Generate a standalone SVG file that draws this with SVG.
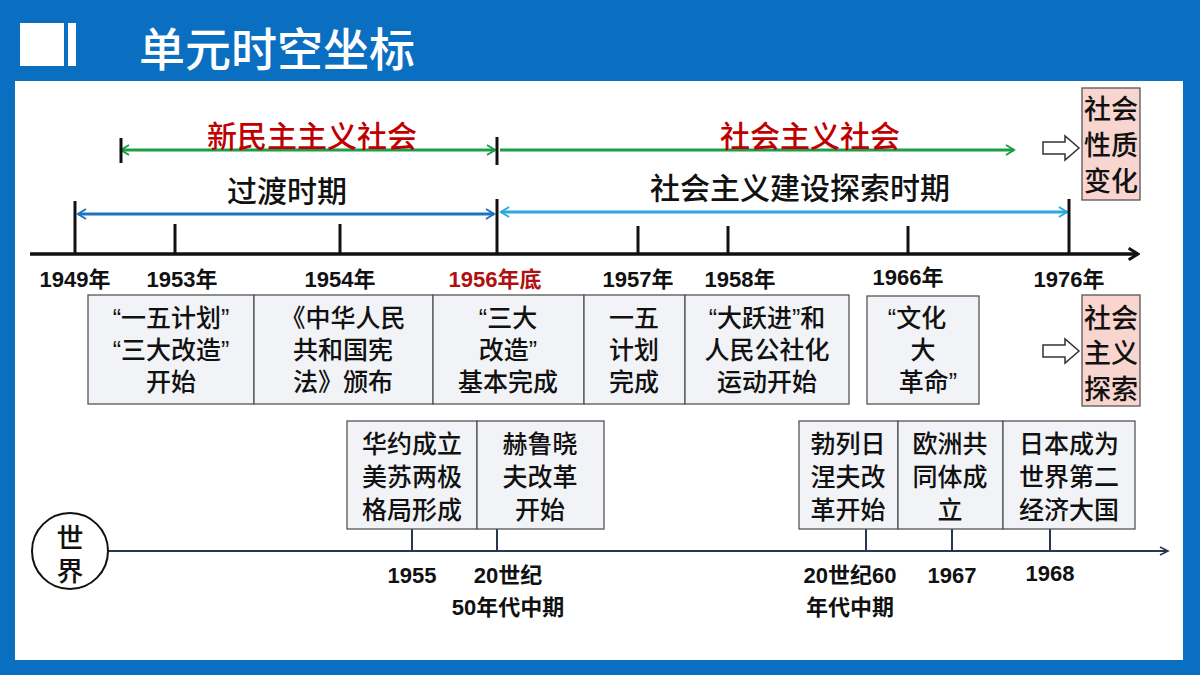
<svg xmlns="http://www.w3.org/2000/svg" width="1200" height="675" viewBox="0 0 1200 675">
<defs>
<style>
text{font-family:"Liberation Sans","Noto Sans CJK SC",sans-serif;text-anchor:middle}
.yr{font-size:22px;font-weight:bold;fill:#111}
.bx{fill:#f1f3f6;stroke:#555;stroke-width:1.3}
.pk{fill:#f9d5d0;stroke:#555;stroke-width:1.3}
.bt{font-size:25px;font-weight:500;fill:#111}
.pt{font-size:27px;font-weight:500;fill:#111}
.tk{stroke:#111;stroke-width:3}
.wt{stroke:#2a3550;stroke-width:2}
</style>
<marker id="ag" viewBox="0 0 12 12" refX="10" refY="6" markerWidth="12" markerHeight="12" markerUnits="userSpaceOnUse" orient="auto-start-reverse"><path d="M2,1 L10,6 L2,11" fill="none" stroke="#1a9e4a" stroke-width="2"/></marker>
<marker id="ab" viewBox="0 0 12 12" refX="10" refY="6" markerWidth="12" markerHeight="12" markerUnits="userSpaceOnUse" orient="auto-start-reverse"><path d="M2,1 L10,6 L2,11" fill="none" stroke="#1f72c0" stroke-width="2"/></marker>
<marker id="al" viewBox="0 0 12 12" refX="10" refY="6" markerWidth="12" markerHeight="12" markerUnits="userSpaceOnUse" orient="auto-start-reverse"><path d="M2,1 L10,6 L2,11" fill="none" stroke="#2aa8e2" stroke-width="2"/></marker>
<marker id="ak" viewBox="0 0 12 12" refX="10" refY="6" markerWidth="14" markerHeight="14" markerUnits="userSpaceOnUse" orient="auto"><path d="M2,1 L10,6 L2,11" fill="none" stroke="#111" stroke-width="2.5"/></marker>
<marker id="aw" viewBox="0 0 12 12" refX="10" refY="6" markerWidth="12" markerHeight="12" markerUnits="userSpaceOnUse" orient="auto"><path d="M2,2 L10,6 L2,10" fill="none" stroke="#2a3550" stroke-width="1.6"/></marker>
<path id="ho" d="M0,-6 H22 V-12 L36,0 L22,12 V6 H0 Z" fill="#fff" stroke="#333" stroke-width="1.5"/>
</defs>
<rect width="1200" height="675" fill="#0b6fc1"/>
<rect x="15" y="81" width="1168" height="579" fill="#fff"/>
<rect x="20" y="23" width="44" height="43" fill="#fff"/>
<rect x="68" y="23" width="8" height="43" fill="#fff"/>
<text x="277" y="66" style="font-size:46px;font-weight:500;fill:#fff">单元时空坐标</text>

<g id="connectors">
<line x1="121" y1="150" x2="495" y2="150" stroke="#1a9e4a" stroke-width="3" marker-start="url(#ag)" marker-end="url(#ag)"/>
<line x1="121" y1="138" x2="121" y2="163" class="tk"/>
<line x1="500" y1="150" x2="1014" y2="150" stroke="#1a9e4a" stroke-width="3" marker-end="url(#ag)"/>
<line x1="78" y1="214" x2="494" y2="214" stroke="#1f72c0" stroke-width="3" marker-start="url(#ab)" marker-end="url(#ab)"/>
<line x1="501" y1="212" x2="1067" y2="212" stroke="#2aa8e2" stroke-width="3" marker-start="url(#al)" marker-end="url(#al)"/>
<line x1="30" y1="254" x2="1138" y2="254" stroke="#111" stroke-width="3.5" marker-end="url(#ak)"/>
<line x1="75" y1="201" x2="75" y2="254" class="tk"/>
<line x1="175" y1="224" x2="175" y2="254" class="tk"/>
<line x1="340" y1="224" x2="340" y2="254" class="tk"/>
<line x1="497" y1="137" x2="497" y2="165" class="tk"/>
<line x1="497" y1="199" x2="497" y2="254" class="tk"/>
<line x1="638" y1="226" x2="638" y2="254" class="tk"/>
<line x1="728" y1="226" x2="728" y2="254" class="tk"/>
<line x1="908" y1="226" x2="908" y2="254" class="tk"/>
<line x1="1069" y1="199" x2="1069" y2="254" class="tk"/>
<use href="#ho" x="1043" y="148"/>
<use href="#ho" x="1043" y="351"/>
<line x1="108" y1="551" x2="1168" y2="551" class="wt" marker-end="url(#aw)"/>
<line x1="412" y1="529" x2="412" y2="551" class="wt"/>
<line x1="497" y1="529" x2="497" y2="551" class="wt"/>
<line x1="866" y1="529" x2="866" y2="551" class="wt"/>
<line x1="952" y1="529" x2="952" y2="551" class="wt"/>
<line x1="1050" y1="529" x2="1050" y2="551" class="wt"/>
</g>

<text x="312" y="147" style="font-size:30px;font-weight:500;fill:#c00000">新民主主义社会</text>
<text x="810" y="147" style="font-size:30px;font-weight:500;fill:#c00000">社会主义社会</text>
<text x="287" y="202" style="font-size:30px;font-weight:500;fill:#111">过渡时期</text>
<text x="800" y="199" style="font-size:30px;font-weight:500;fill:#111">社会主义建设探索时期</text>

<text x="75" y="287" class="yr">1949年</text>
<text x="182" y="287" class="yr">1953年</text>
<text x="340" y="287" class="yr">1954年</text>
<text x="495" y="287" class="yr" style="fill:#b01010">1956年底</text>
<text x="638" y="287" class="yr">1957年</text>
<text x="740" y="287" class="yr">1958年</text>
<text x="908" y="285" class="yr">1966年</text>
<text x="1069" y="287" class="yr">1976年</text>

<g id="n1"><rect x="88" y="295" width="166" height="109" class="bx"/><text x="171" y="327" class="bt">“一五计划”</text><text x="171" y="359" class="bt">“三大改造”</text><text x="171" y="391" class="bt">开始</text></g>
<g id="n2"><rect x="254" y="295" width="179" height="109" class="bx"/><text x="343" y="327" class="bt">《中华人民</text><text x="343" y="359" class="bt">共和国宪</text><text x="343" y="391" class="bt">法》颁布</text></g>
<g id="n3"><rect x="433" y="295" width="151" height="109" class="bx"/><text x="508" y="327" class="bt">“三大</text><text x="508" y="359" class="bt">改造”</text><text x="508" y="391" class="bt">基本完成</text></g>
<g id="n4"><rect x="584" y="295" width="101" height="109" class="bx"/><text x="634" y="327" class="bt">一五</text><text x="634" y="359" class="bt">计划</text><text x="634" y="391" class="bt">完成</text></g>
<g id="n5"><rect x="685" y="295" width="164" height="109" class="bx"/><text x="767" y="327" class="bt">“大跃进”和</text><text x="767" y="359" class="bt">人民公社化</text><text x="767" y="391" class="bt">运动开始</text></g>
<g id="n6"><rect x="867" y="296" width="112" height="108" class="bx"/><text x="917" y="327" class="bt">“文化</text><text x="923" y="359" class="bt">大</text><text x="928" y="391" class="bt">革命”</text></g>
<g id="p1"><rect x="1082" y="88" width="58" height="112" class="pk"/><text x="1111" y="119" class="pt">社会</text><text x="1111" y="155" class="pt">性质</text><text x="1111" y="191" class="pt">变化</text></g>
<g id="p2"><rect x="1082" y="295" width="58" height="111" class="pk"/><text x="1111" y="328" class="pt">社会</text><text x="1111" y="363" class="pt">主义</text><text x="1111" y="399" class="pt">探索</text></g>

<g id="w0"><circle cx="70" cy="551" r="38" fill="#fff" stroke="#111" stroke-width="2"/><text x="70" y="548" style="font-size:27px;font-weight:500;fill:#111">世</text><text x="70" y="581" style="font-size:27px;font-weight:500;fill:#111">界</text></g>
<g id="w1"><rect x="347" y="421" width="130" height="108" class="bx"/><text x="412" y="453" class="bt">华约成立</text><text x="412" y="486" class="bt">美苏两极</text><text x="412" y="519" class="bt">格局形成</text></g>
<g id="w2"><rect x="477" y="421" width="127" height="108" class="bx"/><text x="540" y="453" class="bt">赫鲁晓</text><text x="540" y="486" class="bt">夫改革</text><text x="540" y="519" class="bt">开始</text></g>
<g id="w3"><rect x="799" y="421" width="99" height="108" class="bx"/><text x="848" y="453" class="bt">勃列日</text><text x="848" y="486" class="bt">涅夫改</text><text x="848" y="519" class="bt">革开始</text></g>
<g id="w4"><rect x="898" y="421" width="105" height="108" class="bx"/><text x="950" y="453" class="bt">欧洲共</text><text x="950" y="486" class="bt">同体成</text><text x="950" y="519" class="bt">立</text></g>
<g id="w5"><rect x="1003" y="421" width="132" height="108" class="bx"/><text x="1069" y="453" class="bt">日本成为</text><text x="1069" y="486" class="bt">世界第二</text><text x="1069" y="519" class="bt">经济大国</text></g>

<text x="412" y="583" class="yr">1955</text>
<text x="508" y="583" class="yr">20世纪</text>
<text x="508" y="615" class="yr">50年代中期</text>
<text x="850" y="583" class="yr">20世纪60</text>
<text x="850" y="615" class="yr">年代中期</text>
<text x="952" y="583" class="yr">1967</text>
<text x="1050" y="581" class="yr">1968</text>
</svg>
